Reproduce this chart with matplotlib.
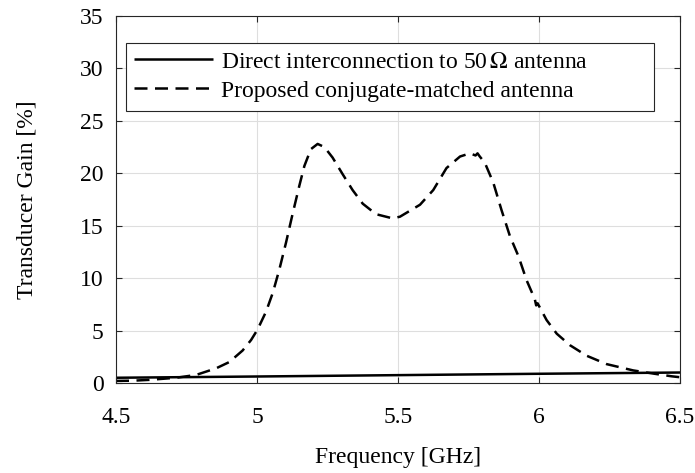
import matplotlib
matplotlib.use('Agg')
import matplotlib.pyplot as plt
from matplotlib.patches import Rectangle

plt.rcParams['font.family'] = ['Liberation Serif', 'DejaVu Serif']
plt.rcParams['mathtext.fontset'] = 'stix'

# direct connection (solid)
freq_direct = [4.5, 5.0, 5.5, 6.0, 6.5]
gain_direct = [0.5, 0.62, 0.75, 0.88, 1.0]

# conjugate-matched antenna (dashed)
freq_match = [4.5, 4.56, 4.618, 4.713, 4.784, 4.855, 4.902, 4.949, 4.979, 5.002,
              5.032, 5.056, 5.079, 5.103, 5.126, 5.15, 5.168, 5.191, 5.215, 5.239,
              5.268, 5.304, 5.339, 5.375, 5.422, 5.481, 5.507, 5.578, 5.625, 5.672,
              5.72, 5.755, 5.775, 5.782, 5.79, 5.808, 5.838, 5.867, 5.897, 5.927,
              5.956, 5.985, 5.99, 5.995, 6.027, 6.063, 6.11, 6.169, 6.24, 6.334,
              6.405, 6.47, 6.5]
gain_match = [0.2, 0.22, 0.3, 0.5, 0.77, 1.4, 2.0, 3.1, 4.1, 5.1,
              6.8, 8.6, 10.8, 13.4, 16.1, 18.8, 20.7, 22.3, 22.8, 22.5,
              21.5, 19.9, 18.4, 17.1, 16.1, 15.7, 15.86, 17.0, 18.4, 20.5,
              21.6, 21.9, 21.7, 21.9, 21.6, 21.0, 19.1, 16.5, 14.0, 12.1,
              9.8, 8.0, 7.4, 7.6, 6.0, 4.7, 3.6, 2.6, 1.8, 1.2,
              0.9, 0.64, 0.55]

FS = 17

fig = plt.figure(figsize=(6.95, 4.73), dpi=100)
ax = fig.add_axes([116 / 695, 1 - 383 / 473, 564 / 695, 367 / 473])

ax.plot(freq_direct, gain_direct, color='k', lw=1.8, solid_capstyle='butt',
        label=r'Direct interconnection to 50$\,\Omega$ antenna')
ax.plot(freq_match, gain_match, color='k', lw=1.8, dashes=(5.2, 3.0),
        label='Proposed conjugate-matched antenna')

ax.set_xlim(4.5, 6.5)
ax.set_ylim(0, 35)
ax.set_xticks([4.5, 5, 5.5, 6, 6.5])
ax.set_xticklabels(['4.5', '5', '5.5', '6', '6.5'])
ax.set_yticks(range(0, 36, 5))
ax.grid(True, color='#dedede', lw=0.8)
ax.set_axisbelow(True)
ax.tick_params(direction='in', length=4, width=0.8, color='#262626',
               top=True, right=True, labelsize=FS)
ax.tick_params(axis='x', pad=17)
ax.tick_params(axis='y', pad=9)
for s in ax.spines.values():
    s.set_color('#262626')
    s.set_linewidth(0.8)

ax.set_xlabel('Frequency [GHz]', fontsize=FS)
ax.xaxis.set_label_coords(0.5, (383 - 458) / 367)
ax.xaxis.label.set_va('center')
ax.set_ylabel('Transducer Gain [%]', fontsize=FS)
ax.yaxis.set_label_coords((27 - 116) / 564, 0.5)
ax.yaxis.label.set_va('center')

# MATLAB-style legend box, wider than its text
ax.add_patch(Rectangle(((126 - 116) / 564, (383 - 111) / 367), 528 / 564, 68.3 / 367,
                       transform=ax.transAxes, facecolor='white', edgecolor='#262626',
                       lw=0.8, zorder=4))
leg = ax.legend(loc='upper left', bbox_to_anchor=((134 - 116) / 564, (383 - 51) / 367),
                fontsize=FS, frameon=False, handlelength=3.35, handletextpad=0.34,
                borderpad=0, labelspacing=0.32, borderaxespad=0)
leg.set_zorder(5)

fig.savefig('out.png', dpi=100)
